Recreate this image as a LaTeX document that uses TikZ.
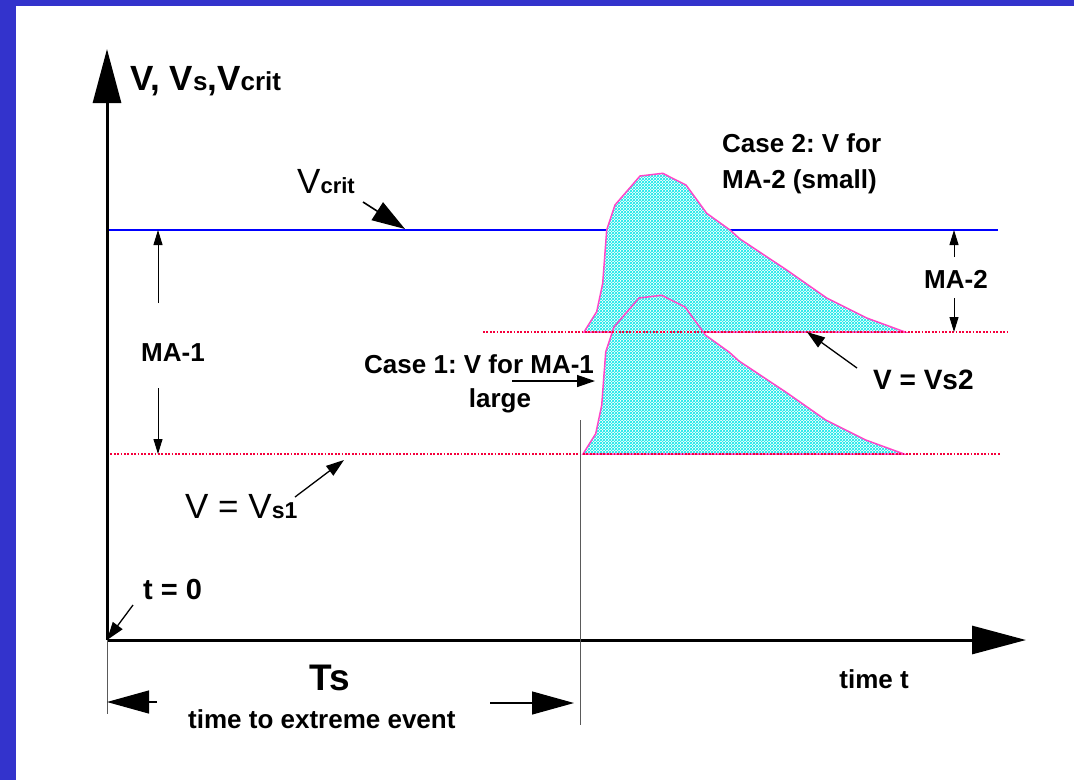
\documentclass[tikz,border=0pt]{standalone}
\usepackage{fontspec}
\setmainfont{Liberation Sans}
\frenchspacing
\usetikzlibrary{arrows.meta,patterns.meta}
\definecolor{framecol}{RGB}{51,51,204}
\definecolor{critblue}{RGB}{0,0,255}
\definecolor{vsred}{RGB}{245,0,60}
\definecolor{peakpink}{RGB}{255,70,200}
\definecolor{peakcyan}{RGB}{0,230,230}
\definecolor{guide}{RGB}{90,90,90}
\tikzdeclarepattern{
  name=mesh,
  type=uncolored,
  bounding box={(0pt,0pt) and (3pt,3pt)},
  tile size={(3pt,3pt)},
  code={
    \draw[line width=0.8pt] (-1pt,-1pt) -- (4pt,4pt);
    \draw[line width=0.8pt] (-1pt,4pt) -- (4pt,-1pt);
  }
}
\tikzset{
  axisline/.style={line width=3pt, -{Triangle[length=54pt,width=28pt]}},
  critline/.style={critblue, line width=1.8pt},
  vsline/.style={vsred, line width=1.8pt, dash pattern=on 1.8pt off 1.6pt},
  peakbg/.style={fill=white},
  peak/.style={draw=peakpink, line width=1.5pt, pattern={mesh}, pattern color=peakcyan},
  guideline/.style={guide, line width=1pt},
  ptr/.style={line width=1.3pt, -{Triangle[length=18pt,width=12pt]}},
  bigptr/.style={line width=1.6pt, -{Triangle[length=33pt,width=21pt]}},
  dimarrow/.style={line width=1pt, -{Triangle[length=15pt,width=9pt]}},
  tsarrow/.style={line width=1.2pt, -{Triangle[length=42pt,width=23pt]}},
  lbl/.style={font=\fontsize{26}{30}\selectfont\bfseries, inner sep=0pt},
  plain/.style={inner sep=0pt},
}
\begin{document}
\begin{tikzpicture}[x=1pt,y=-1pt]
\useasboundingbox (0,0) rectangle (1074,780);
% frame
\fill[framecol] (0,0) rectangle (1074,6);
\fill[framecol] (0,0) rectangle (16,780);

% V_crit line
\coordinate (critL) at (107,230);
\coordinate (critR) at (998,230);
\draw[critline] (critL) -- (critR);

% peaks: case 2 (upper) and case 1 (lower)
\foreach \dx/\dy in {0/0,-1/122}{
  \fill[peakbg, shift={(\dx,\dy)}] (584,332) -- (596.7,311.7) -- (602.7,283.3) -- (606.7,230)
    -- (615,205) -- (640,176) -- (662.7,173.3) -- (686,185) -- (706.7,213.3) -- (730,230)
    -- (740,239) -- (786.7,270) -- (826.7,298) -- (866.7,318) -- (905,332) -- cycle;
  \filldraw[peak, shift={(\dx,\dy)}] (584,332) -- (596.7,311.7) -- (602.7,283.3) -- (606.7,230)
    -- (615,205) -- (640,176) -- (662.7,173.3) -- (686,185) -- (706.7,213.3) -- (730,230)
    -- (740,239) -- (786.7,270) -- (826.7,298) -- (866.7,318) -- (905,332) -- cycle;
}

% V_s lines
\coordinate (vs2L) at (483,332);
\coordinate (vs2R) at (1007,332);
\draw[vsline] (vs2L) -- (vs2R);
\coordinate (vs1L) at (107,454);
\coordinate (vs1R) at (1000,454);
\draw[vsline] (vs1L) -- (vs1R);

% axes
\coordinate (origin) at (107,640);
\coordinate (ytip) at (107,49);
\coordinate (xtip) at (1026,640);
\draw[axisline] (origin) -- (ytip);
\draw[axisline] (origin) -- (xtip);

% guide verticals
\coordinate (g1top) at (107,640);
\coordinate (g1bot) at (107,714);
\draw[guideline] (g1top) -- (g1bot);
\coordinate (g2top) at (580,420);
\coordinate (g2bot) at (580,725);
\draw[guideline] (g2top) -- (g2bot);

% labels
\node[plain, anchor=base west, font=\bfseries] (axlbl) at (130,90)
  {\fontsize{35}{35}\selectfont V, V\fontsize{26}{26}\selectfont s\fontsize{35}{35}\selectfont ,V\fontsize{26}{26}\selectfont crit};
\node[plain, anchor=base west] (vcritlbl) at (297,193)
  {\fontsize{35}{35}\selectfont V\fontsize{22}{22}\selectfont\bfseries crit};
\node[plain, anchor=base west] (vs1lbl) at (185,518)
  {\fontsize{35}{35}\selectfont V = V\fontsize{23}{23}\selectfont\bfseries s1};
\node[plain, anchor=base west, font=\fontsize{28}{28}\selectfont\bfseries] (vs2lbl) at (873,389) {V = Vs2};
\node[lbl, anchor=base west] (case2a) at (722,152) {Case 2: V for};
\node[lbl, anchor=base west] (case2b) at (722,188) {MA-2 (small)};
\node[lbl, anchor=base west] (case1a) at (364,373) {Case 1: V for MA-1};
\node[lbl, anchor=base] (case1b) at (500,407) {large};
\node[lbl, anchor=base] (ma1) at (173,361) {MA-1};
\node[lbl, anchor=base] (ma2) at (956,288) {MA-2};
\node[plain, anchor=base west, font=\fontsize{29}{29}\selectfont\bfseries] (t0) at (143,599) {t = 0};
\node[lbl, anchor=base east] (timet) at (909,688) {time t};
\node[plain, anchor=base, font=\fontsize{37}{37}\selectfont\bfseries] (Ts) at (330,690) {Ts};
\node[lbl, anchor=base west] (tte) at (188,728) {time to extreme event};

% pointer arrows
\coordinate (a1) at (363,202); \coordinate (a1t) at (405,229);
\draw[bigptr] (a1) -- (a1t);
\coordinate (m1a) at (158,303); \coordinate (m1at) at (158,230);
\draw[dimarrow] (m1a) -- (m1at);
\coordinate (m1b) at (158,388); \coordinate (m1bt) at (158,454);
\draw[dimarrow] (m1b) -- (m1bt);
\coordinate (m2a) at (954,257); \coordinate (m2at) at (954,230);
\draw[dimarrow] (m2a) -- (m2at);
\coordinate (m2b) at (954,298); \coordinate (m2bt) at (954,332);
\draw[dimarrow] (m2b) -- (m2bt);
\coordinate (p2) at (857,368); \coordinate (p2t) at (807,332);
\draw[ptr] (p2) -- (p2t);
\coordinate (p1) at (295,497); \coordinate (p1t) at (344,460);
\draw[ptr] (p1) -- (p1t);
\coordinate (c1) at (512,381); \coordinate (c1t) at (595,381);
\draw[ptr] (c1) -- (c1t);
\coordinate (t0a) at (133,605);
\draw[ptr] (t0a) -- (origin);
\coordinate (tsl) at (157,702); \coordinate (tslt) at (107,702);
\draw[tsarrow] (tsl) -- (tslt);
\coordinate (tsr) at (490,703); \coordinate (tsrt) at (574,703);
\draw[tsarrow] (tsr) -- (tsrt);
\end{tikzpicture}
\end{document}
